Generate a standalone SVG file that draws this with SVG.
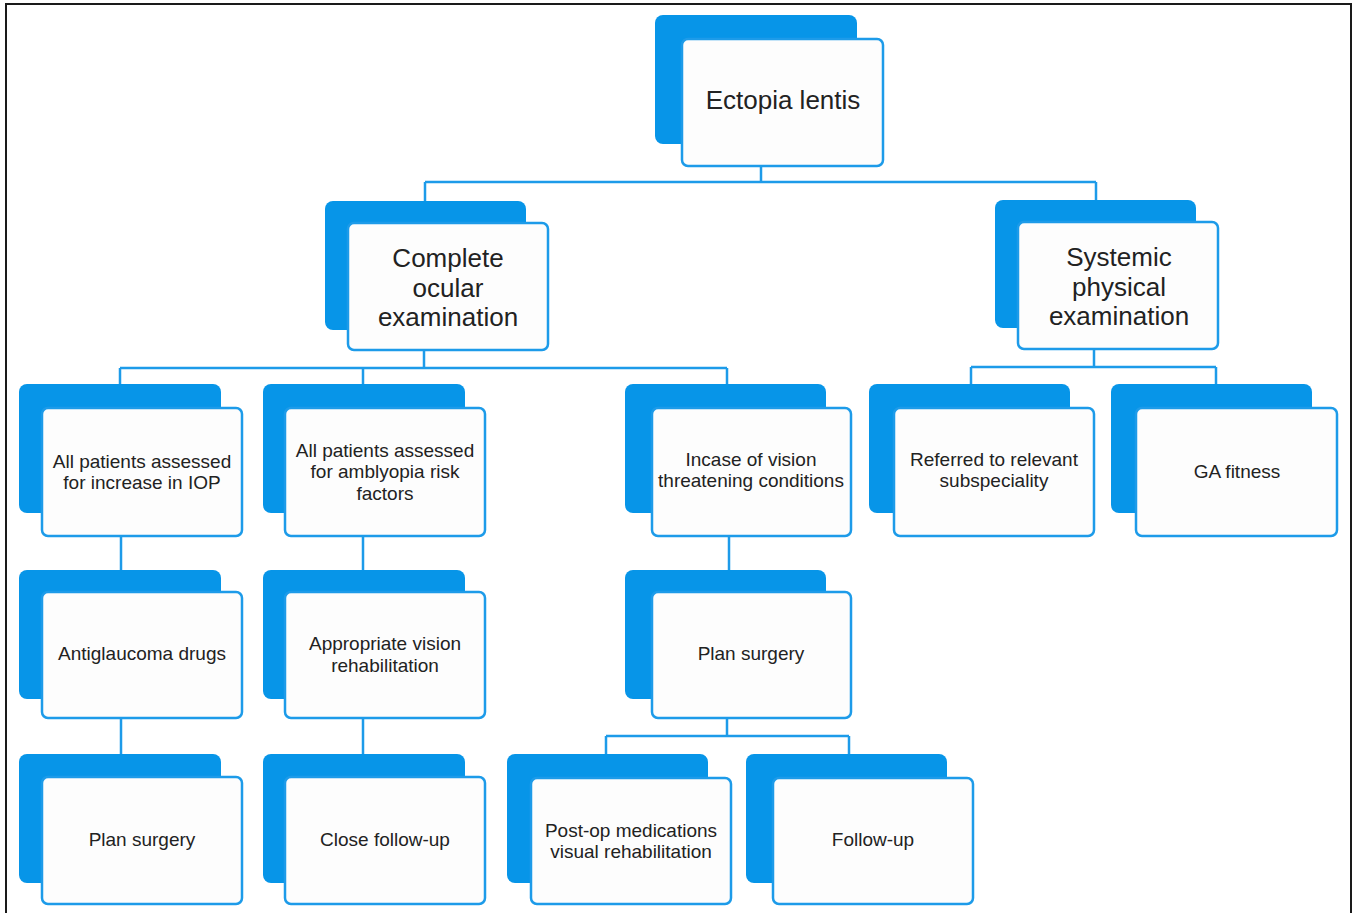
<svg xmlns="http://www.w3.org/2000/svg" width="1354" height="913" viewBox="0 0 1354 913">
<style>
.bg{fill:#ffffff}
.frame{fill:none;stroke:#1a1a1a;stroke-width:2}
.back{fill:#0795e8}
.front{fill:#fdfdfd;stroke:#1d9be9;stroke-width:2.5}
.conn{fill:none;stroke:#1d9be9;stroke-width:2.5}
.t{font-family:"Liberation Sans",Arial,sans-serif;fill:#222;text-anchor:middle}
.big{font-size:26px}
.sm{font-size:19px}
</style>
<rect class="bg" x="0" y="0" width="1354" height="913"/>
<rect class="frame" x="6" y="4" width="1345" height="920"/>
<g id="connectors">
<path class="conn" d="M761 166V182M425 182H1096M425 182V201M1096 182V200"/>
<path class="conn" d="M424 350V368M120 368H727M120 368V384M363 368V384M727 368V384"/>
<path class="conn" d="M1094 349V367M971 367H1216M971 367V384M1216 367V384"/>
<path class="conn" d="M121 536V570M363 536V570M729 536V570"/>
<path class="conn" d="M121 718V754M363 718V754"/>
<path class="conn" d="M727 718V736M606 736H849M606 736V754M849 736V754"/>
</g>
<g id="n-root">
<rect class="back" x="655" y="15" width="202" height="129" rx="8"/>
<rect class="front" x="682" y="39" width="201" height="127" rx="6"/>
<text class="t big" x="783" y="109">Ectopia lentis</text>
</g>
<g id="n-ocular">
<rect class="back" x="325" y="201" width="201" height="129" rx="8"/>
<rect class="front" x="348" y="223" width="200" height="127" rx="6"/>
<text class="t big" x="448" y="267">Complete</text>
<text class="t big" x="448" y="297">ocular</text>
<text class="t big" x="448" y="326">examination</text>
</g>
<g id="n-systemic">
<rect class="back" x="995" y="200" width="201" height="128" rx="8"/>
<rect class="front" x="1018" y="222" width="200" height="127" rx="6"/>
<text class="t big" x="1119" y="266">Systemic</text>
<text class="t big" x="1119" y="296">physical</text>
<text class="t big" x="1119" y="325">examination</text>
</g>
<g id="n-iop">
<rect class="back" x="19" y="384" width="202" height="129" rx="8"/>
<rect class="front" x="42" y="408" width="200" height="128" rx="6"/>
<text class="t sm" x="142" y="468">All patients assessed</text>
<text class="t sm" x="142" y="489">for increase in IOP</text>
</g>
<g id="n-amblyopia">
<rect class="back" x="263" y="384" width="202" height="129" rx="8"/>
<rect class="front" x="285" y="408" width="200" height="128" rx="6"/>
<text class="t sm" x="385" y="457">All patients assessed</text>
<text class="t sm" x="385" y="478">for amblyopia risk</text>
<text class="t sm" x="385" y="500">factors</text>
</g>
<g id="n-threat">
<rect class="back" x="625" y="384" width="201" height="129" rx="8"/>
<rect class="front" x="652" y="408" width="199" height="128" rx="6"/>
<text class="t sm" x="751" y="466">Incase of vision</text>
<text class="t sm" x="751" y="487">threatening conditions</text>
</g>
<g id="n-referred">
<rect class="back" x="869" y="384" width="201" height="129" rx="8"/>
<rect class="front" x="894" y="408" width="200" height="128" rx="6"/>
<text class="t sm" x="994" y="466">Referred to relevant</text>
<text class="t sm" x="994" y="487">subspeciality</text>
</g>
<g id="n-ga">
<rect class="back" x="1111" y="384" width="201" height="129" rx="8"/>
<rect class="front" x="1136" y="408" width="201" height="128" rx="6"/>
<text class="t sm" x="1237" y="478">GA fitness</text>
</g>
<g id="n-antiglaucoma">
<rect class="back" x="19" y="570" width="202" height="129" rx="8"/>
<rect class="front" x="42" y="592" width="200" height="126" rx="6"/>
<text class="t sm" x="142" y="660">Antiglaucoma drugs</text>
</g>
<g id="n-rehab">
<rect class="back" x="263" y="570" width="202" height="129" rx="8"/>
<rect class="front" x="285" y="592" width="200" height="126" rx="6"/>
<text class="t sm" x="385" y="650">Appropriate vision</text>
<text class="t sm" x="385" y="672">rehabilitation</text>
</g>
<g id="n-plan2">
<rect class="back" x="625" y="570" width="201" height="129" rx="8"/>
<rect class="front" x="652" y="592" width="199" height="126" rx="6"/>
<text class="t sm" x="751" y="660">Plan surgery</text>
</g>
<g id="n-plan1">
<rect class="back" x="19" y="754" width="202" height="129" rx="8"/>
<rect class="front" x="42" y="777" width="200" height="127" rx="6"/>
<text class="t sm" x="142" y="846">Plan surgery</text>
</g>
<g id="n-close">
<rect class="back" x="263" y="754" width="202" height="129" rx="8"/>
<rect class="front" x="285" y="777" width="200" height="127" rx="6"/>
<text class="t sm" x="385" y="846">Close follow-up</text>
</g>
<g id="n-postop">
<rect class="back" x="507" y="754" width="201" height="129" rx="8"/>
<rect class="front" x="531" y="778" width="200" height="126" rx="6"/>
<text class="t sm" x="631" y="837">Post-op medications</text>
<text class="t sm" x="631" y="858">visual rehabilitation</text>
</g>
<g id="n-followup">
<rect class="back" x="746" y="754" width="201" height="129" rx="8"/>
<rect class="front" x="773" y="778" width="200" height="126" rx="6"/>
<text class="t sm" x="873" y="846">Follow-up</text>
</g>
</svg>
